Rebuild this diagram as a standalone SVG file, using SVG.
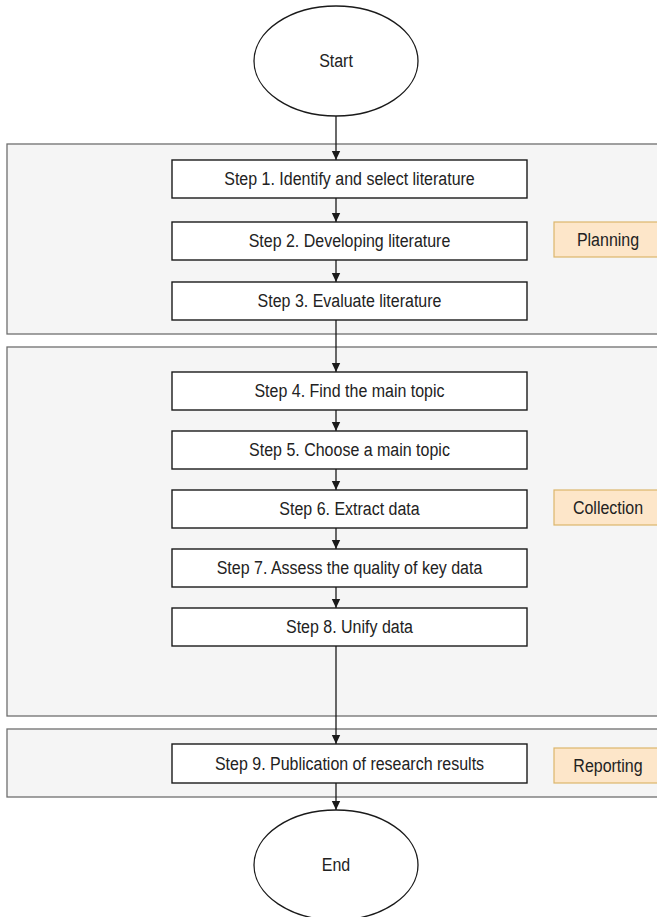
<svg xmlns="http://www.w3.org/2000/svg" width="657" height="917" viewBox="0 0 657 917">
<style>
.bg{fill:#ffffff}
.lane{fill:#f5f5f5;stroke:#6f6f6f;stroke-width:1.3}
.step{fill:#ffffff;stroke:#1a1a1a;stroke-width:1.4}
.term{fill:#ffffff;stroke:#1a1a1a;stroke-width:1.3}
.tag{fill:#fde6c9;stroke:#dcb66c;stroke-width:1.2}
.t{font-family:"Liberation Sans",Arial,sans-serif;font-size:16px;fill:#222222;text-anchor:middle}
.conn line{stroke:#1a1a1a;stroke-width:1.3;fill:none}
</style>
<defs>
<marker id="arr" markerWidth="10" markerHeight="10" refX="9" refY="5" orient="auto" markerUnits="userSpaceOnUse">
<path d="M0,0.8 L9,5 L0,9.2 Z" fill="#1a1a1a"/>
</marker>
</defs>
<rect class="bg" x="0" y="0" width="657" height="917"/>

<g id="lane-planning"><rect class="lane" x="7" y="144" width="660" height="190"/></g>
<g id="lane-collection"><rect class="lane" x="7" y="347" width="660" height="369"/></g>
<g id="lane-reporting"><rect class="lane" x="7" y="729" width="660" height="68"/></g>

<g class="conn" id="connectors">
<line x1="336" y1="116" x2="336" y2="160" marker-end="url(#arr)"/>
<line x1="336" y1="198" x2="336" y2="222" marker-end="url(#arr)"/>
<line x1="336" y1="260" x2="336" y2="282" marker-end="url(#arr)"/>
<line x1="336" y1="320" x2="336" y2="372" marker-end="url(#arr)"/>
<line x1="336" y1="410" x2="336" y2="431" marker-end="url(#arr)"/>
<line x1="336" y1="469" x2="336" y2="490" marker-end="url(#arr)"/>
<line x1="336" y1="528" x2="336" y2="549" marker-end="url(#arr)"/>
<line x1="336" y1="587" x2="336" y2="608" marker-end="url(#arr)"/>
<line x1="336" y1="646" x2="336" y2="744" marker-end="url(#arr)"/>
<line x1="336" y1="783" x2="336" y2="810" marker-end="url(#arr)"/>
</g>

<g id="start"><ellipse class="term" cx="336" cy="61" rx="82" ry="55"/><text class="t" transform="translate(336,61) scale(1,1.1)" dy="0.36em">Start</text></g>

<g id="step1"><rect class="step" x="172" y="160" width="355" height="38"/><text class="t" transform="translate(349.5,179) scale(1,1.1)" dy="0.36em">Step 1. Identify and select literature</text></g>
<g id="step2"><rect class="step" x="172" y="222" width="355" height="38"/><text class="t" transform="translate(349.5,241) scale(1,1.1)" dy="0.36em">Step 2. Developing literature</text></g>
<g id="step3"><rect class="step" x="172" y="282" width="355" height="38"/><text class="t" transform="translate(349.5,301) scale(1,1.1)" dy="0.36em">Step 3. Evaluate literature</text></g>
<g id="tag-planning"><rect class="tag" x="554" y="222" width="110" height="35"/><text class="t" transform="translate(608,239.5) scale(1,1.1)" dy="0.36em">Planning</text></g>

<g id="step4"><rect class="step" x="172" y="372" width="355" height="38"/><text class="t" transform="translate(349.5,391) scale(1,1.1)" dy="0.36em">Step 4. Find the main topic</text></g>
<g id="step5"><rect class="step" x="172" y="431" width="355" height="38"/><text class="t" transform="translate(349.5,450) scale(1,1.1)" dy="0.36em">Step 5. Choose a main topic</text></g>
<g id="step6"><rect class="step" x="172" y="490" width="355" height="38"/><text class="t" transform="translate(349.5,509) scale(1,1.1)" dy="0.36em">Step 6. Extract data</text></g>
<g id="step7"><rect class="step" x="172" y="549" width="355" height="38"/><text class="t" transform="translate(349.5,568) scale(1,1.1)" dy="0.36em">Step 7. Assess the quality of key data</text></g>
<g id="step8"><rect class="step" x="172" y="608" width="355" height="38"/><text class="t" transform="translate(349.5,627) scale(1,1.1)" dy="0.36em">Step 8. Unify data</text></g>
<g id="tag-collection"><rect class="tag" x="554" y="490" width="110" height="35"/><text class="t" transform="translate(608,507.5) scale(1,1.1)" dy="0.36em">Collection</text></g>

<g id="step9"><rect class="step" x="172" y="744" width="355" height="39"/><text class="t" transform="translate(349.5,763.5) scale(1,1.1)" dy="0.36em">Step 9. Publication of research results</text></g>
<g id="tag-reporting"><rect class="tag" x="554" y="748" width="110" height="35"/><text class="t" transform="translate(608,765.5) scale(1,1.1)" dy="0.36em">Reporting</text></g>

<g id="end"><ellipse class="term" cx="336" cy="865" rx="82" ry="55"/><text class="t" transform="translate(336,865) scale(1,1.1)" dy="0.36em">End</text></g>
</svg>
